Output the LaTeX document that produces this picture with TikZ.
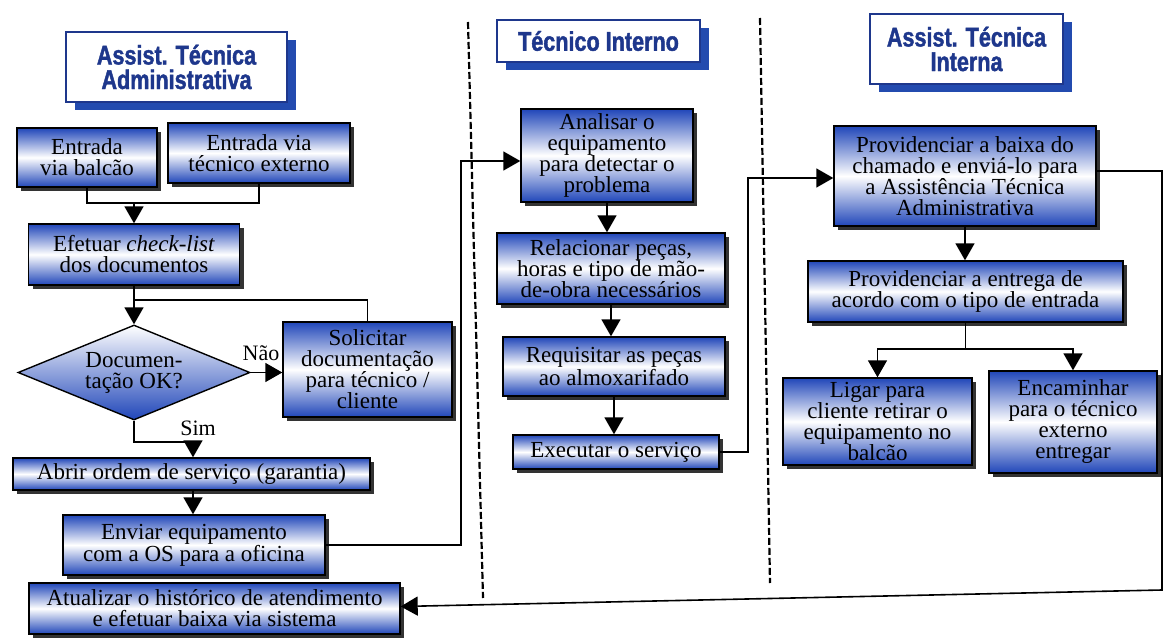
\documentclass[tikz,border=0pt]{standalone}
\usepackage{fontspec}
\setmainfont{Liberation Serif}
\newfontfamily\titlefont[FakeStretch=0.8, BoldFeatures={FakeBold=1.5}]{Liberation Sans}
\usetikzlibrary{arrows.meta,shapes.geometric,shadows,calc}
\definecolor{boxblue}{RGB}{32,70,185}
\definecolor{titleblue}{RGB}{30,55,140}
\definecolor{titleshadow}{RGB}{35,75,175}
\begin{document}
\begin{tikzpicture}[x=1pt,y=-1pt,
  sz/.style 2 args={minimum width=#1pt, minimum height=#2pt},
  box/.style={draw=black, line width=1.4pt, top color=boxblue, bottom color=boxblue, middle color=white,
    inner sep=0pt, align=center, font=\fontsize{23}{21}\selectfont,
    general shadow={shadow xshift=4pt, shadow yshift=-4pt, fill=black!80}},
  decision/.style={diamond, aspect=2.4, draw=black, line width=1.4pt, top color=white, bottom color=boxblue,
    inner sep=0pt, align=center, font=\fontsize{23}{21}\selectfont},
  title/.style={draw=titleblue, line width=1.4pt, fill=white, text=titleblue, inner sep=0pt, align=center,
    font=\titlefont\bfseries\fontsize{27}{24.5}\selectfont,
    general shadow={shadow xshift=9pt, shadow yshift=-8pt, fill=titleshadow}},
  lbl/.style={font=\fontsize{22}{22}\selectfont, inner sep=0pt},
  ln/.style={line width=1.6pt},
  arr/.style={line width=1.6pt, -{Triangle[width=19pt,length=17pt]}},
  sep/.style={line width=2.2pt, dash pattern=on 7pt off 3pt}
]
\useasboundingbox (0,0) rectangle (1165,639);

% lane separators
\coordinate (s1a) at (468,22); \coordinate (s1b) at (483,598);
\coordinate (s2a) at (760,18); \coordinate (s2b) at (770,583);
\draw[sep] (s1a) -- (s1b);
\draw[sep] (s2a) -- (s2b);

% titles
\node[title, sz={221}{70}] (t1) at (176.5,67) {Assist. Técnica\\Administrativa};
\node[title, sz={203}{42}] (t2) at (598.5,41) {Técnico Interno};
\node[title, sz={193}{70}] (t3) at (966.5,49) {Assist. Técnica\\Interna};

% lane 1
\node[box, sz={140}{59}] (eb) at (87,157.5) {Entrada\\via balcão};
\node[box, sz={182}{60}] (et) at (259,153) {Entrada via\\técnico externo};
\node[box, sz={211}{61}] (cl) at (134,254.5) {Efetuar \textit{check-list}\\dos documentos};
\node[decision, minimum width=232pt, minimum height=95pt] (dia) at (134,372.5) {Documen-\\tação OK?};
\node[box, sz={169}{95}] (so) at (367.5,369.5) {Solicitar\\documentação\\para técnico /\\cliente};
\node[box, sz={357}{32}] (ab) at (191.5,474) {Abrir ordem de serviço (garantia)};
\node[box, sz={262}{60}] (en) at (194,545) {Enviar equipamento\\com a OS para a oficina};
\node[box, sz={371}{51}] (at) at (214.5,608.5) {Atualizar o histórico de atendimento\\e efetuar baixa via sistema};
\node[lbl] (nao) at (261,353) {Não};
\node[lbl] (sim) at (198,428) {Sim};

% lane 2
\node[box, sz={172}{93}] (an) at (607,155.5) {Analisar o\\equipamento\\para detectar o\\problema};
\node[box, sz={228}{71}] (re) at (611,268.5) {Relacionar peças,\\horas e tipo de mão-\\de-obra necessários};
\node[box, sz={222}{59}] (rq) at (614,366.5) {Requisitar as peças\\ao almoxarifado};
\node[box, sz={206}{34}] (ex) at (616,452) {Executar o serviço};

% lane 3
\node[box, sz={262}{100}] (pb) at (965,176) {Providenciar a baixa do\\chamado e enviá-lo para\\a Assistência Técnica\\Administrativa};
\node[box, sz={315}{61}] (pe) at (965.5,291.5) {Providenciar a entrega de\\acordo com o tipo de entrada};
\node[box, sz={189}{87}] (li) at (877.5,421.5) {Ligar para\\cliente retirar o\\equipamento no\\balcão};
\node[box, sz={168}{102}] (ec) at (1073,422) {Encaminhar\\para o técnico\\externo\\entregar};

% connectors lane 1
\coordinate (j1) at (134,203);
\draw[ln] (eb.south) |- (et.south |- j1) -- (et.south);
\draw[arr] (j1) -- (j1 |- cl.north);
\draw[arr] (cl.south) -- (cl.south |- dia.north);
\coordinate (j2) at (134,300);
\draw[ln] (so.north) |- (j2);
\draw[arr] (dia.east) -- (so.west |- dia.east);
\coordinate (j3) at (193,442);
\draw[ln] (dia.south) |- (j3);
\draw[arr] (j3) -- (j3 |- ab.north);
\draw[arr] (j3 |- ab.south) -- (j3 |- en.north);
\coordinate (j4) at (461,161);
\draw[arr] (en.east) -| (j4) -- (j4 -| an.west);

% connectors lane 2
\draw[arr] (an.south) -- (an.south |- re.north);
\draw[arr] (re.south) -- (re.south |- rq.north);
\draw[arr] (rq.south) -- (rq.south |- ex.north);
\coordinate (j5) at (748,178);
\draw[arr] (ex.east) -| (j5) -- (j5 -| pb.west);

% connectors lane 3
\draw[arr] (pb.south) -- (pb.south |- pe.north);
\coordinate (j6) at (965.5,349);
\draw[ln] (pe.south) -- (j6);
\draw[arr] (j6) -| (li.north);
\draw[arr] (j6) -| (ec.north);
\coordinate (j7) at (1162,171);
\coordinate (j8) at (1162,590);
\draw[arr] (pb.east |- j7) -- (j7) -- (j8) -- ($(at.east)+(0,-2)$);
\end{tikzpicture}
\end{document}
